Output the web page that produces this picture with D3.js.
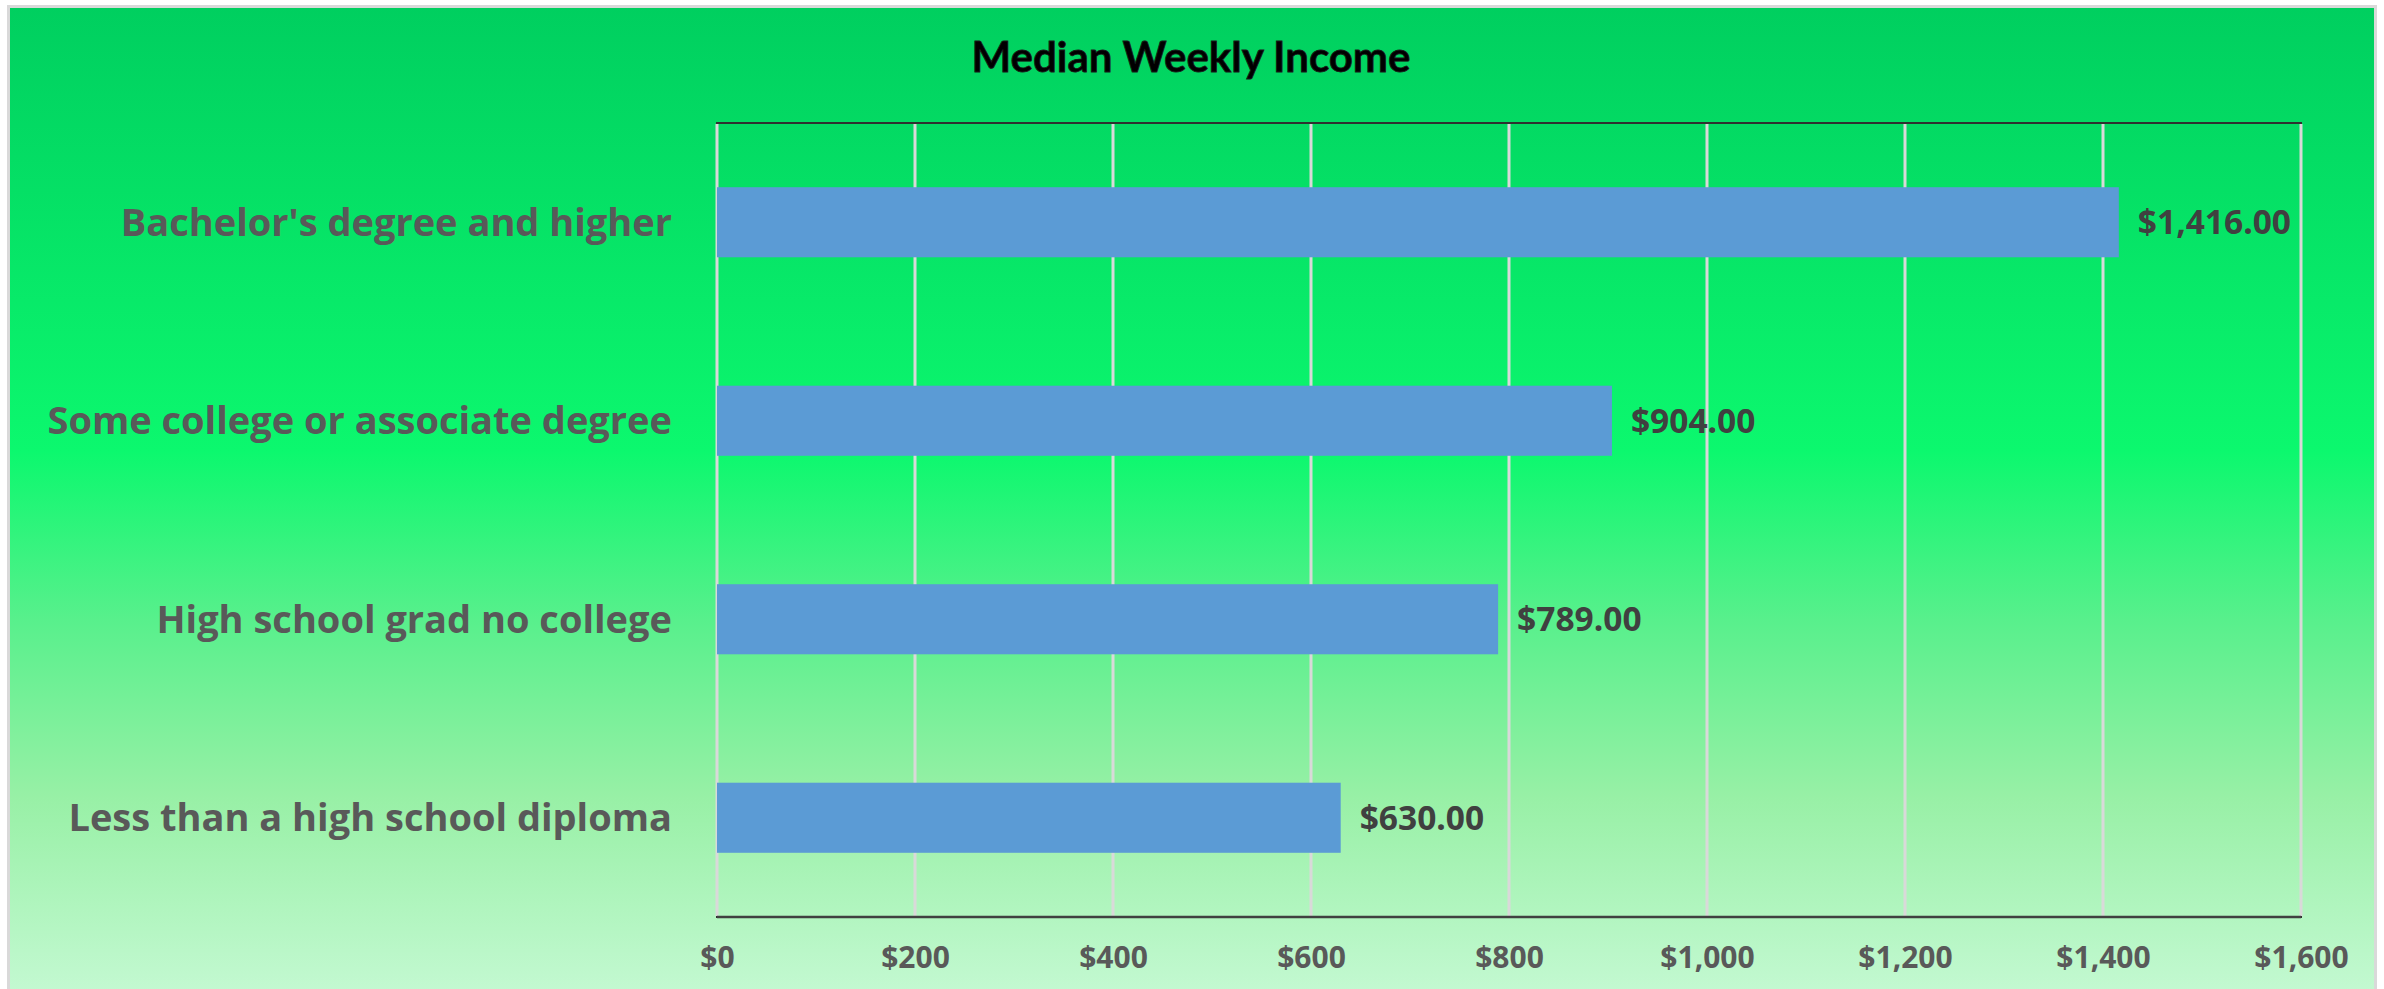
<!DOCTYPE html>
<html>
<head>
<meta charset="utf-8">
<script src="https://cdn.jsdelivr.net/npm/d3@7"></script>
<style>
    body { margin: 0; background: #ffffff; }
    #chart { display: block; font-family: "Open Sans", Lato, sans-serif; }
</style>
</head>
<body>
<svg id="chart" width="2384" height="989"></svg>
<script>
// categories listed bottom to top, like the spreadsheet
let categories = [
    "Less than a high school diploma",
    "High school grad no college",
    "Some college or associate degree",
    "Bachelor's degree and higher"
];
let income = [630, 789, 904, 1416];
let xTicks = [0, 200, 400, 600, 800, 1000, 1200, 1400, 1600];
let chartTitle = "Median Weekly Income";

function hbarchart(chart) {
    var W = 2384, H = 989;
    var margin = { top: 123, right: 83, bottom: 72, left: 717 },
        width = W - margin.left - margin.right,
        height = H - margin.top - margin.bottom;

    let svg = d3.select("#" + chart);

    // background gradient
    let defs = svg.append("defs");
    let grad = defs.append("linearGradient")
        .attr("id", "bg")
        .attr("x1", 0).attr("y1", 0)
        .attr("x2", 0).attr("y2", 1);
    [["0%", "#00cf5f"], ["45%", "#0cf86e"], ["62%", "#58f08c"], ["80%", "#98f0a6"], ["100%", "#c4f9d2"]]
        .forEach(s => grad.append("stop").attr("offset", s[0]).attr("stop-color", s[1]));

    svg.append("rect")
        .attr("x", 8.5).attr("y", 6.5)
        .attr("width", W - 17).attr("height", H)
        .attr("fill", "url(#bg)")
        .attr("stroke", "#d9d9d9")
        .attr("stroke-width", 3);

    let g = svg.append("g").attr("transform", "translate(" + margin.left + "," + margin.top + ")");

    let x = d3.scaleLinear()
        .domain([0, 1600])
        .range([0, width]);

    let y = d3.scaleBand()
        .domain(categories.slice().reverse())
        .range([0, height])
        .paddingInner(0.647)
        .paddingOuter(0.3235);

    let data = categories.map((c, i) => ({ name: c, value: income[i] }));

    // plot area border (top, right, bottom dark)
    g.append("rect")
        .attr("width", width).attr("height", height)
        .attr("fill", "none")
        .attr("stroke", "#303030")
        .attr("stroke-width", 2);

    g.selectAll(".grid")
        .data(xTicks)
        .enter()
        .append("line")
        .attr("class", "grid")
        .attr("x1", d => x(d)).attr("x2", d => x(d))
        .attr("y1", 1).attr("y2", height - 1)
        .attr("stroke", "#d9d9d9")
        .attr("stroke-width", 3);

    g.selectAll(".bar")
        .data(data)
        .enter()
        .append("rect")
        .attr("class", "bar")
        .attr("x", 0)
        .attr("y", d => y(d.name))
        .attr("width", d => x(d.value))
        .attr("height", y.bandwidth())
        .style("fill", "#5b9bd5");

    // bottom axis line
    g.append("line")
        .attr("x1", 0).attr("x2", width)
        .attr("y1", height).attr("y2", height)
        .attr("stroke", "#404040")
        .attr("stroke-width", 2.5);

    let fmtMoney = d3.format("$,.2f");
    g.selectAll(".val")
        .data(data)
        .enter()
        .append("text")
        .attr("class", "val")
        .attr("x", d => x(d.value) + 19)
        .attr("y", d => y(d.name) + y.bandwidth() / 2)
        .attr("dy", "0.36em")
        .attr("fill", "#404040")
        .attr("font-size", 33.5)
        .attr("font-weight", "bold")
        .text(d => fmtMoney(d.value));

    // category axis
    let yAxis = g.append("g")
        .call(d3.axisLeft(y).tickSize(0).tickPadding(45));
    yAxis.select(".domain").remove();
    yAxis.selectAll("text")
        .attr("fill", "#595959")
        .attr("font-size", 38)
        .attr("font-weight", "bold")
        .attr("font-family", "'Open Sans', sans-serif")
        .attr("dy", "0.35em");

    // value axis
    let xAxis = g.append("g")
        .attr("transform", "translate(0," + height + ")")
        .call(d3.axisBottom(x).tickValues(xTicks).tickFormat(d3.format("$,")).tickSize(0).tickPadding(30));
    xAxis.select(".domain").remove();
    xAxis.selectAll("text")
        .attr("fill", "#595959")
        .attr("font-size", 30)
        .attr("font-weight", "bold")
        .attr("font-family", "'Open Sans', sans-serif")
        .attr("dy", "0.71em");

    svg.append("text")
        .attr("x", 1191)
        .attr("y", 72)
        .attr("text-anchor", "middle")
        .attr("font-family", "Lato, sans-serif")
        .attr("font-size", 42)
        .attr("font-weight", "bold")
        .attr("fill", "#000000")
        .attr("stroke", "#1a1a1a")
        .attr("stroke-width", 0.8)
        .text(chartTitle);
}

hbarchart("chart");
</script>
</body>
</html>
